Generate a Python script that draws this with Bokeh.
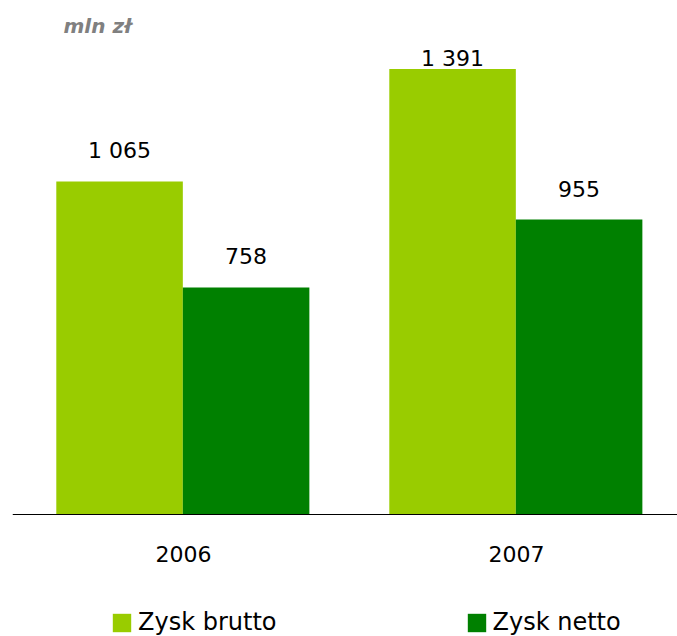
from bokeh.plotting import figure
from bokeh.models import Range1d, Legend, LegendItem, Label, ColumnDataSource, Span
from bokeh.core.properties import value
from bokeh.embed import file_html
from bokeh.resources import INLINE

years = ["2006", "2007"]
series_names = ["Zysk brutto", "Zysk netto"]
zysk_brutto = [1065, 1391]
zysk_netto = [758, 955]
colors = ["#99CC00", "#008000"]
unit_label = "mln zł"

FONT = "DejaVu Sans"
W, H = 677, 636
left = 12
base_px = 514            # baseline position from top
ppu = 0.345              # pixels per unit
y_base = 100
y_start = y_base - (H - base_px) / ppu
y_end = y_base + base_px / ppu
group_px = 333
first_center_px = 183
x_start = -(first_center_px - left) / group_px
x_end = x_start + (W - left) / group_px

p = figure(width=W, height=H, output_backend="svg", toolbar_location=None,
           x_range=Range1d(x_start, x_end), y_range=Range1d(y_start, y_end),
           min_border_left=left, min_border_right=0, min_border_top=0, min_border_bottom=0)
p.outline_line_color = None
p.grid.visible = False
p.axis.visible = False
p.background_fill_color = "white"

offsets = [-0.192, 0.188]
width = 0.38
renderers = []
for s_i, (name, vals) in enumerate(zip(series_names, [zysk_brutto, zysk_netto])):
    xs = [i + offsets[s_i] for i in range(len(years))]
    src = ColumnDataSource(dict(x=xs, top=vals,
                                ly=[min(v + 31 / ppu, y_end - 58 / ppu) for v in vals],
                                txt=[f"{v:,}".replace(",", " ") for v in vals]))
    r = p.vbar(x="x", top="top", bottom=y_base, width=width, source=src,
               fill_color=colors[s_i], line_color=None)
    renderers.append(r)
    p.text(x="x", y="ly", text="txt", source=src, text_align="center",
           text_baseline="middle", text_font=value(FONT), text_font_size="22px",
           text_color="black")

# category axis: baseline and year labels
p.add_layout(Span(location=y_base, dimension="width", line_color="black", line_width=1))
p.text(x=list(range(len(years))), y=[y_base] * len(years), text=years, y_offset=39,
       text_align="center", text_baseline="middle", text_font=value(FONT),
       text_font_size="22px", text_color="black")

legend = Legend(items=[LegendItem(label=n, renderers=[r]) for n, r in zip(series_names, renderers)],
                orientation="horizontal", location=(98, 0),
                glyph_width=23, glyph_height=23, label_standoff=5, spacing=188,
                padding=0, margin=0, border_line_alpha=0, background_fill_alpha=0,
                label_text_font=FONT, label_text_font_size="24px", label_text_color="black")
p.add_layout(legend, "center")

p.add_layout(Label(x=51, y=H - 25, x_units="screen", y_units="screen", text=unit_label,
                   text_font=FONT, text_font_size="20px", text_font_style="bold italic",
                   text_color="#808080", text_baseline="middle"))

open("out.html", "w").write(file_html(p, INLINE))
